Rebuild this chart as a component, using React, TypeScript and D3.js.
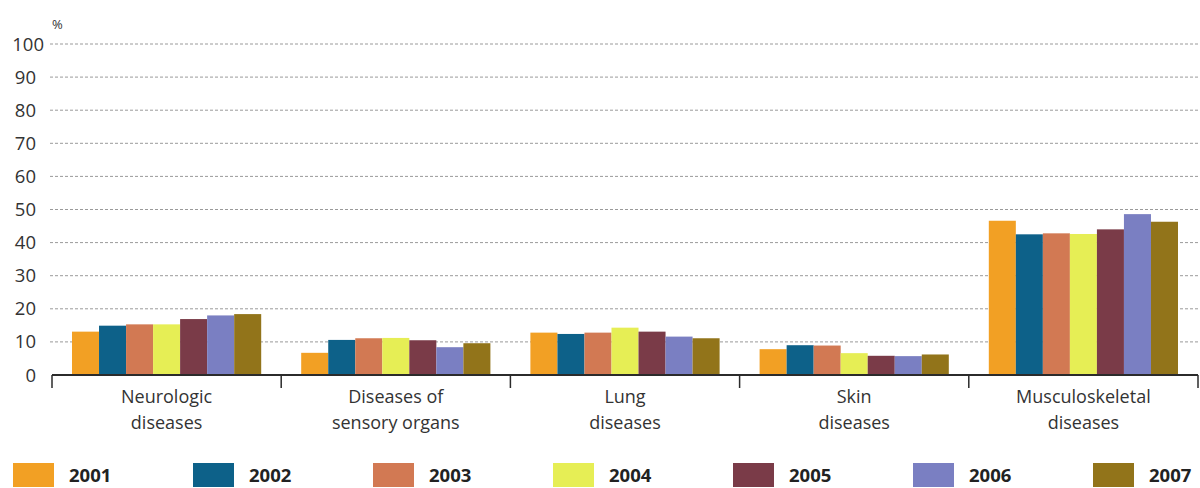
import React from "react";
import * as d3 from "d3";

// Share of sick-leave causes by disease group, 2001–2007 (%)
const categories = [
  ["Neurologic", "diseases"],
  ["Diseases of", "sensory organs"],
  ["Lung", "diseases"],
  ["Skin", "diseases"],
  ["Musculoskeletal", "diseases"],
];
const years = ["2001", "2002", "2003", "2004", "2005", "2006", "2007"];
const yearColors = ["#F2A024", "#0D6189", "#D27953", "#E6EE55", "#7A3B48", "#7A7FC2", "#92741A"];

// one row per category, one value per year
const neurologic = [13.1, 14.9, 15.3, 15.3, 16.9, 18.0, 18.4];
const sensory = [6.7, 10.6, 11.1, 11.2, 10.5, 8.4, 9.6];
const lung = [12.8, 12.4, 12.8, 14.3, 13.1, 11.6, 11.1];
const skin = [7.8, 9.0, 8.9, 6.6, 5.8, 5.7, 6.2];
const musculoskeletal = [46.6, 42.5, 42.8, 42.6, 44.0, 48.6, 46.3];
const seriesByCategory = [neurologic, sensory, lung, skin, musculoskeletal];

const yTicks = [0, 10, 20, 30, 40, 50, 60, 70, 80, 90, 100];

const W = 1200;
const H = 488;
const axisLeft = 52;
const axisRight = 1198;
const baseY = 375;
const topY = 44;
const font = "'Open Sans', 'Noto Sans', sans-serif";

export default function App() {
  const x0 = d3
    .scaleBand<number>()
    .domain(categories.map((_, i) => i))
    .range([axisLeft, axisRight]);
  const bw = x0.bandwidth();
  const x1 = d3.scaleBand<string>().domain(years).range([20, bw - 20]);
  const y = d3.scaleLinear().domain([0, 100]).range([baseY, topY]);

  const boundaries = [...categories.map((_, i) => x0(i) as number), axisRight];

  return (
    <div style={{ position: "absolute", left: 0, top: 0 }}>
      <svg width={W} height={H} style={{ display: "block", background: "#fff" }}>
        {/* unit label */}
        <text x={52} y={29} fontFamily={font} fontSize={13} fill="#333">
          %
        </text>

        {/* gridlines and tick labels */}
        {yTicks.map((t) => (
          <g key={t}>
            {t > 0 && (
              <line
                x1={50}
                x2={W}
                y1={y(t)}
                y2={y(t)}
                stroke="#9a9a9a"
                strokeWidth={1}
                strokeDasharray="3,2"
              />
            )}
            <text
              x={t === 100 ? 44 : 36}
              y={y(t) + 6.5}
              textAnchor="end"
              fontFamily={font}
              fontSize={18.5}
              fill="#333"
            >
              {t}
            </text>
          </g>
        ))}

        {/* bars */}
        {seriesByCategory.map((vals, ci) => (
          <g key={ci} transform={`translate(${x0(ci)},0)`}>
            {vals.map((v, yi) => (
              <rect
                key={yi}
                x={x1(years[yi])}
                y={y(v)}
                width={x1.bandwidth()}
                height={baseY - y(v)}
                fill={yearColors[yi]}
              />
            ))}
          </g>
        ))}

        {/* x axis */}
        <line x1={axisLeft} x2={axisRight} y1={baseY} y2={baseY} stroke="#2b2b2b" strokeWidth={2} />
        {boundaries.map((bx, i) => (
          <line key={i} x1={bx} x2={bx} y1={baseY} y2={baseY + 13} stroke="#2b2b2b" strokeWidth={1.5} />
        ))}
        {categories.map((lines, ci) => (
          <text
            key={ci}
            x={(x0(ci) as number) + bw / 2}
            textAnchor="middle"
            fontFamily={font}
            fontSize={18}
            fill="#333"
          >
            {lines.map((ln, li) => (
              <tspan key={li} x={(x0(ci) as number) + bw / 2} y={403 + li * 26}>
                {ln}
              </tspan>
            ))}
          </text>
        ))}

        {/* legend */}
        {years.map((yr, i) => (
          <g key={yr} transform={`translate(${13 + i * 180},0)`}>
            <rect x={0} y={463} width={41} height={24} fill={yearColors[i]} />
            <text x={56} y={482} fontFamily={font} fontSize={18.5} fontWeight="bold" fill="#222">
              {yr}
            </text>
          </g>
        ))}
      </svg>
    </div>
  );
}
